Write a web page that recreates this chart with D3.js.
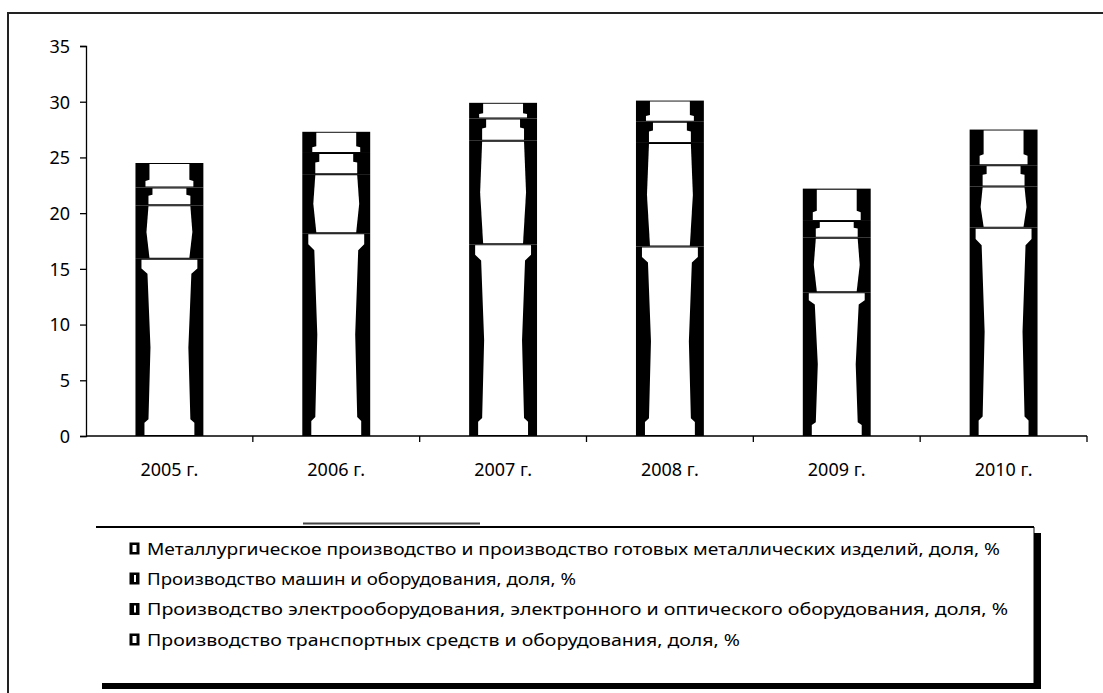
<!DOCTYPE html>
<html><head><meta charset="utf-8">
<script src="https://cdn.jsdelivr.net/npm/d3@7/dist/d3.min.js"></script>
<style>body{margin:0;background:#fff}svg{display:block}text{font-family:"Noto Sans",sans-serif;fill:#000}</style>
</head><body><svg id="c" width="1103" height="693"></svg>
<script>
const years = ["2005 г.","2006 г.","2007 г.","2008 г.","2009 г.","2010 г."];
const seriesNames = [
  "Металлургическое производство и производство готовых металлических изделий, доля, %",
  "Производство машин и оборудования, доля, %",
  "Производство электрооборудования, электронного и оптического оборудования, доля, %",
  "Производство транспортных средств и оборудования, доля, %"
];
const metallurgy = [15.9, 18.2, 17.2, 17.0, 12.9, 18.7];
const machinery  = [4.8, 5.3, 9.3, 9.3, 4.9, 3.7];
const electrical = [1.6, 1.9, 2.0, 1.9, 1.5, 1.9];
const transport  = [2.2, 1.9, 1.4, 1.9, 2.9, 3.2];
const yTicks = [0,5,10,15,20,25,30,35];

const svg = d3.select("#c");
svg.append("rect").attr("x",8).attr("y",13).attr("width",1200).attr("height",800)
  .attr("fill","none").attr("stroke","#222").attr("stroke-width",2);

const x = d3.scaleBand().domain(years).range([86,1087]).paddingInner(0.593).paddingOuter(0.2965);
const y = d3.scaleLinear().domain([0,35]).range([436,46]);

const rows = years.map((yr,i)=>({year:yr, v:[metallurgy[i],machinery[i],electrical[i],transport[i]]}));

const profiles = [
  [[0,9],[0.07,9],[0.09,13],[0.5,15],[0.92,12],[0.95,6],[1,6]],
  [[0,14],[0.5,11],[1,13]],
  [[0,13],[0.55,13],[0.6,17],[1,17]],
  [[0,10],[0.25,10],[0.3,14],[1,14]]
];

const g = svg.append("g");
rows.forEach(r=>{
  let acc=0;
  const bx = x(r.year), bw = x.bandwidth();
  r.v.forEach((val,s)=>{
    const y0 = y(acc), y1 = y(acc+val);
    acc += val;
    g.append("rect").attr("x",bx).attr("y",y1).attr("width",bw).attr("height",y0-y1).attr("fill","#000");
    const top = y1+1, bot = y0-1, h = bot-top;
    if (h<=0) return;
    const prof = profiles[s];
    const left = prof.map(([f,ins])=>[bx+ins, bot - f*h]);
    const right = prof.slice().reverse().map(([f,ins])=>[bx+bw-ins, bot - f*h]);
    g.append("path").attr("d", d3.line()(left.concat(right))+"Z").attr("fill","#fff");
  });
});

const yAxis = d3.axisLeft(y).tickValues(yTicks).tickSize(6).tickPadding(10);
const ga = svg.append("g").attr("transform","translate(86,0)").call(yAxis);
ga.attr("font-size",18).attr("font-family",null);
ga.select(".domain").attr("stroke","#000").attr("stroke-width",1.3);
ga.selectAll("line").attr("stroke","#000").attr("stroke-width",1.3);
ga.selectAll("text").attr("font-size",18).attr("dy","0.35em");

const xa = svg.append("g").attr("transform","translate(0,436)");
xa.append("line").attr("x1",86).attr("x2",1087).attr("stroke","#000").attr("stroke-width",1.3);
const bounds = years.map((d,i)=>x.range()[0]+x.step()*(i+1));
xa.selectAll("line.t").data(bounds).enter().append("line").attr("class","t")
  .attr("x1",d=>d).attr("x2",d=>d).attr("y1",0).attr("y2",6).attr("stroke","#000").attr("stroke-width",1.3);
xa.selectAll("text").data(years).enter().append("text")
  .attr("x",d=>x(d)+x.bandwidth()/2).attr("y",40).attr("text-anchor","middle").attr("font-size",18).text(d=>d);

const lg = svg.append("g");
lg.append("line").attr("x1",303).attr("x2",480).attr("y1",523.5).attr("y2",523.5).attr("stroke","#444").attr("stroke-width",2);
lg.append("rect").attr("x",102).attr("y",533).attr("width",939).attr("height",156).attr("fill","#000");
lg.append("rect").attr("x",96).attr("y",527).attr("width",938).attr("height",156).attr("fill","#fff");
lg.append("line").attr("x1",96).attr("x2",1034).attr("y1",527).attr("y2",527).attr("stroke","#000").attr("stroke-width",2);
lg.append("line").attr("x1",1034).attr("x2",1034).attr("y1",527).attr("y2",683).attr("stroke","#000").attr("stroke-width",1);
const rowY = [549,579,609.5,640];
const widths = [853,429,861,593];
seriesNames.forEach((n,i)=>{
  const cy = rowY[i];
  lg.append("rect").attr("x",129.5).attr("y",cy-6.5).attr("width",10).attr("height",12).attr("fill","#000");
  lg.append("rect").attr("x",(i===1||i===2)?134:132.5).attr("y",cy-4).attr("width",(i===1||i===2)?2:4).attr("height",7).attr("fill","#fff");
  lg.append("text").attr("x",147).attr("y",cy+5.5).attr("font-size",16.5)
    .attr("textLength",widths[i]).attr("lengthAdjust","spacingAndGlyphs").text(n);
});
</script></body></html>
